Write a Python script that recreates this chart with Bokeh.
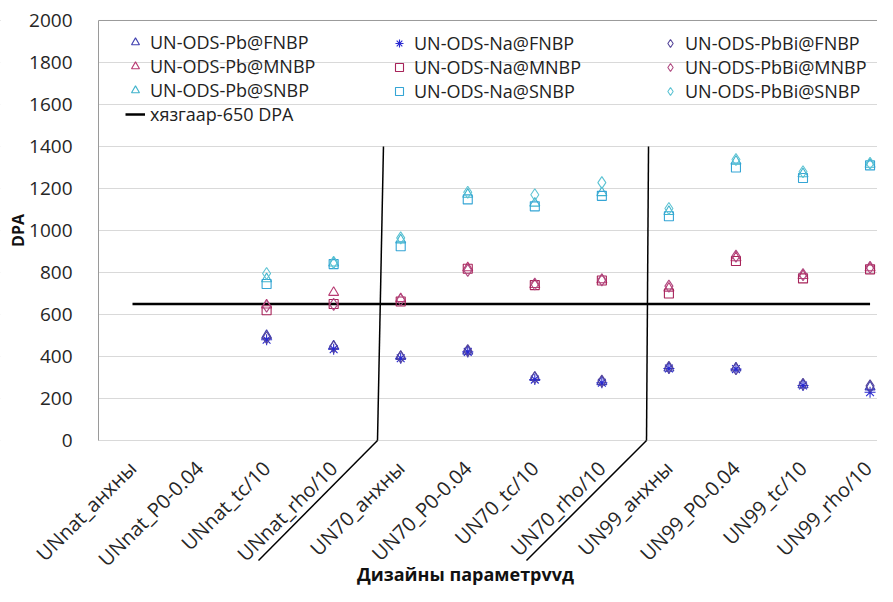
import math
from bokeh.plotting import figure
from bokeh.models import (Legend, LegendItem, FixedTicker, Arrow, Label, Span,
                          Range1d, ColumnDataSource, BoxAnnotation)
from bokeh.embed import file_html
from bokeh.resources import INLINE

nan = float("nan")

categories = ["UNnat_анхны", "UNnat_P0-0.04", "UNnat_tc/10", "UNnat_rho/10",
              "UN70_анхны", "UN70_P0-0.04", "UN70_tc/10", "UN70_rho/10",
              "UN99_анхны", "UN99_P0-0.04", "UN99_tc/10", "UN99_rho/10"]
xpos = list(range(1, len(categories) + 1))

pb_fnbp = [nan, nan, 500, 450, 400, 425, 300, 280, 345, 345, 265, 255]
na_fnbp = [nan, nan, 480, 435, 392, 422, 290, 275, 343, 340, 262, 230]
pbbi_fnbp = [nan, nan, 490, 445, 398, 428, 300, 283, 348, 342, 268, 260]
pb_mnbp = [nan, nan, 645, 705, 675, 822, 742, 765, 725, 870, 785, 822]
na_mnbp = [nan, nan, 620, 650, 662, 818, 740, 762, 700, 855, 772, 815]
pbbi_mnbp = [nan, nan, 640, 648, 670, 810, 745, 765, 735, 878, 790, 825]
pb_snbp = [nan, nan, 770, 845, 955, 1172, 1130, 1180, 1090, 1330, 1270, 1315]
na_snbp = [nan, nan, 745, 840, 925, 1148, 1115, 1165, 1068, 1300, 1250, 1310]
pbbi_snbp = [nan, nan, 795, 848, 965, 1182, 1170, 1228, 1105, 1338, 1280, 1320]

limit_value = 650
limit_label = "хязгаар-650 DPA"
y_ticks = [0, 200, 400, 600, 800, 1000, 1200, 1400, 1600, 1800, 2000]
x_title = "Дизайны параметрvvд"
y_title = "DPA"

FONT = "Open Sans"
X_LEFT = 0.493      # left edge of the plotting area (category units)

# the frame covers the whole canvas; axes are pinned inside it so that the
# slanted category labels, separator strokes and titles are not clipped
p = figure(width=877, height=586, output_backend="svg", toolbar_location=None,
           x_range=Range1d(-0.9687, 12.111), y_range=Range1d(-695.2, 2095.2),
           min_border_left=0, min_border_right=0, min_border_top=0,
           min_border_bottom=0)
p.outline_line_color = None
p.background_fill_color = "white"
p.border_fill_color = "white"

p.xgrid.visible = False
p.ygrid.ticker = FixedTicker(ticks=y_ticks)
p.ygrid.grid_line_color = "#d9d9d9"

top_border = Span(location=2000, dimension="width", line_color="#9a9a9a",
                  line_width=1, level="underlay")
p.add_layout(top_border)
# blank the strip left of the plotting area (gridlines run across the frame)
p.add_layout(BoxAnnotation(right=X_LEFT, fill_color="white", fill_alpha=1,
                           line_color=None, level="underlay"))

# y axis pinned at the left edge of the plotting area
p.yaxis.fixed_location = X_LEFT
p.yaxis.ticker = FixedTicker(ticks=y_ticks)
p.yaxis.bounds = (0, 2000)
p.yaxis.major_label_text_font = FONT
p.yaxis.major_label_text_font_size = "19px"
p.yaxis.major_label_text_color = "#262626"
p.yaxis.major_tick_line_color = None
p.yaxis.minor_tick_line_color = None
p.yaxis.major_label_standoff = 20
p.yaxis.axis_line_color = "#9a9a9a"

# x axis pinned at y = 0
p.xaxis.fixed_location = 0
p.xaxis.bounds = (X_LEFT, 12.111)
p.xaxis.ticker = FixedTicker(ticks=xpos)
p.xaxis.major_label_overrides = {i: c for i, c in zip(xpos, categories)}
p.xaxis.major_label_orientation = math.pi / 4
p.xaxis.major_label_text_font = FONT
p.xaxis.major_label_text_font_size = "20px"
p.xaxis.major_label_text_color = "#262626"
p.xaxis.major_tick_line_color = None
p.xaxis.minor_tick_line_color = None
p.xaxis.major_label_standoff = 18
p.xaxis.axis_line_color = "#d9d9d9"

# limit line
r_lim = p.line([xpos[0], xpos[-1]], [limit_value, limit_value],
               line_color="black", line_width=2.5)

series = [
    ("UN-ODS-Pb@FNBP", pb_fnbp, "triangle", "#4040B0", 10),
    ("UN-ODS-Pb@MNBP", pb_mnbp, "triangle", "#B83A72", 10),
    ("UN-ODS-Pb@SNBP", pb_snbp, "triangle", "#3FB3CC", 10),
    ("UN-ODS-Na@FNBP", na_fnbp, "asterisk", "#2A2AD0", 11),
    ("UN-ODS-Na@MNBP", na_mnbp, "square", "#A8245A", 9),
    ("UN-ODS-Na@SNBP", na_snbp, "square", "#35A5D5", 9),
    ("UN-ODS-PbBi@FNBP", pbbi_fnbp, "diamond", "#56469A", 12),
    ("UN-ODS-PbBi@MNBP", pbbi_mnbp, "diamond", "#B04A80", 12),
    ("UN-ODS-PbBi@SNBP", pbbi_snbp, "diamond", "#5CC3D3", 12),
]
renderers = {}
for name, vals, marker, color, size in series:
    src = ColumnDataSource(dict(x=xpos, y=vals))
    renderers[name] = p.scatter("x", "y", source=src, marker=marker, size=size,
                                fill_color=None, line_color=color, line_width=1.1)

def make_legend(items, x, y):
    lg = Legend(items=items, location=(x, y), orientation="vertical",
                background_fill_alpha=0, border_line_color=None,
                padding=0, margin=0, spacing=-1, glyph_width=20, glyph_height=20,
                label_height=20, label_standoff=5,
                label_text_font=FONT, label_text_font_size="18px",
                label_text_color="#222222")
    p.add_layout(lg, "center")
    return lg

names = [s[0] for s in series]
make_legend([LegendItem(label=n, renderers=[renderers[n]]) for n in names[0:3]]
            + [LegendItem(label=limit_label, renderers=[r_lim])], 125, 460)
make_legend([LegendItem(label=n, renderers=[renderers[n]]) for n in names[3:6]], 389, 483)
make_legend([LegendItem(label=n, renderers=[renderers[n]]) for n in names[6:9]], 660, 483)

# group separators (vertical inside plot, slanted through the category labels)
for (xt, xb, xd) in [(4.743, 4.654, 2.879), (8.696, 8.666, 6.876)]:
    p.add_layout(Arrow(end=None, x_start=xt, y_start=1400, x_end=xb, y_end=0,
                       line_color="black", line_width=1.5))
    p.add_layout(Arrow(end=None, x_start=xb, y_start=0, x_end=xd, y_end=-571.4,
                       line_color="black", line_width=1.5))

p.add_layout(Label(x=5.966, y=-636, text=x_title, text_align="center",
                   text_baseline="middle", text_font=FONT, text_font_style="bold",
                   text_font_size="18px", text_color="#111111"))
p.add_layout(Label(x=-0.715, y=1000, text=y_title, angle=math.pi / 2,
                   text_align="center", text_baseline="middle", text_font=FONT,
                   text_font_style="bold", text_font_size="16px", text_color="#111111"))

open("out.html", "w").write(file_html(p, INLINE))
